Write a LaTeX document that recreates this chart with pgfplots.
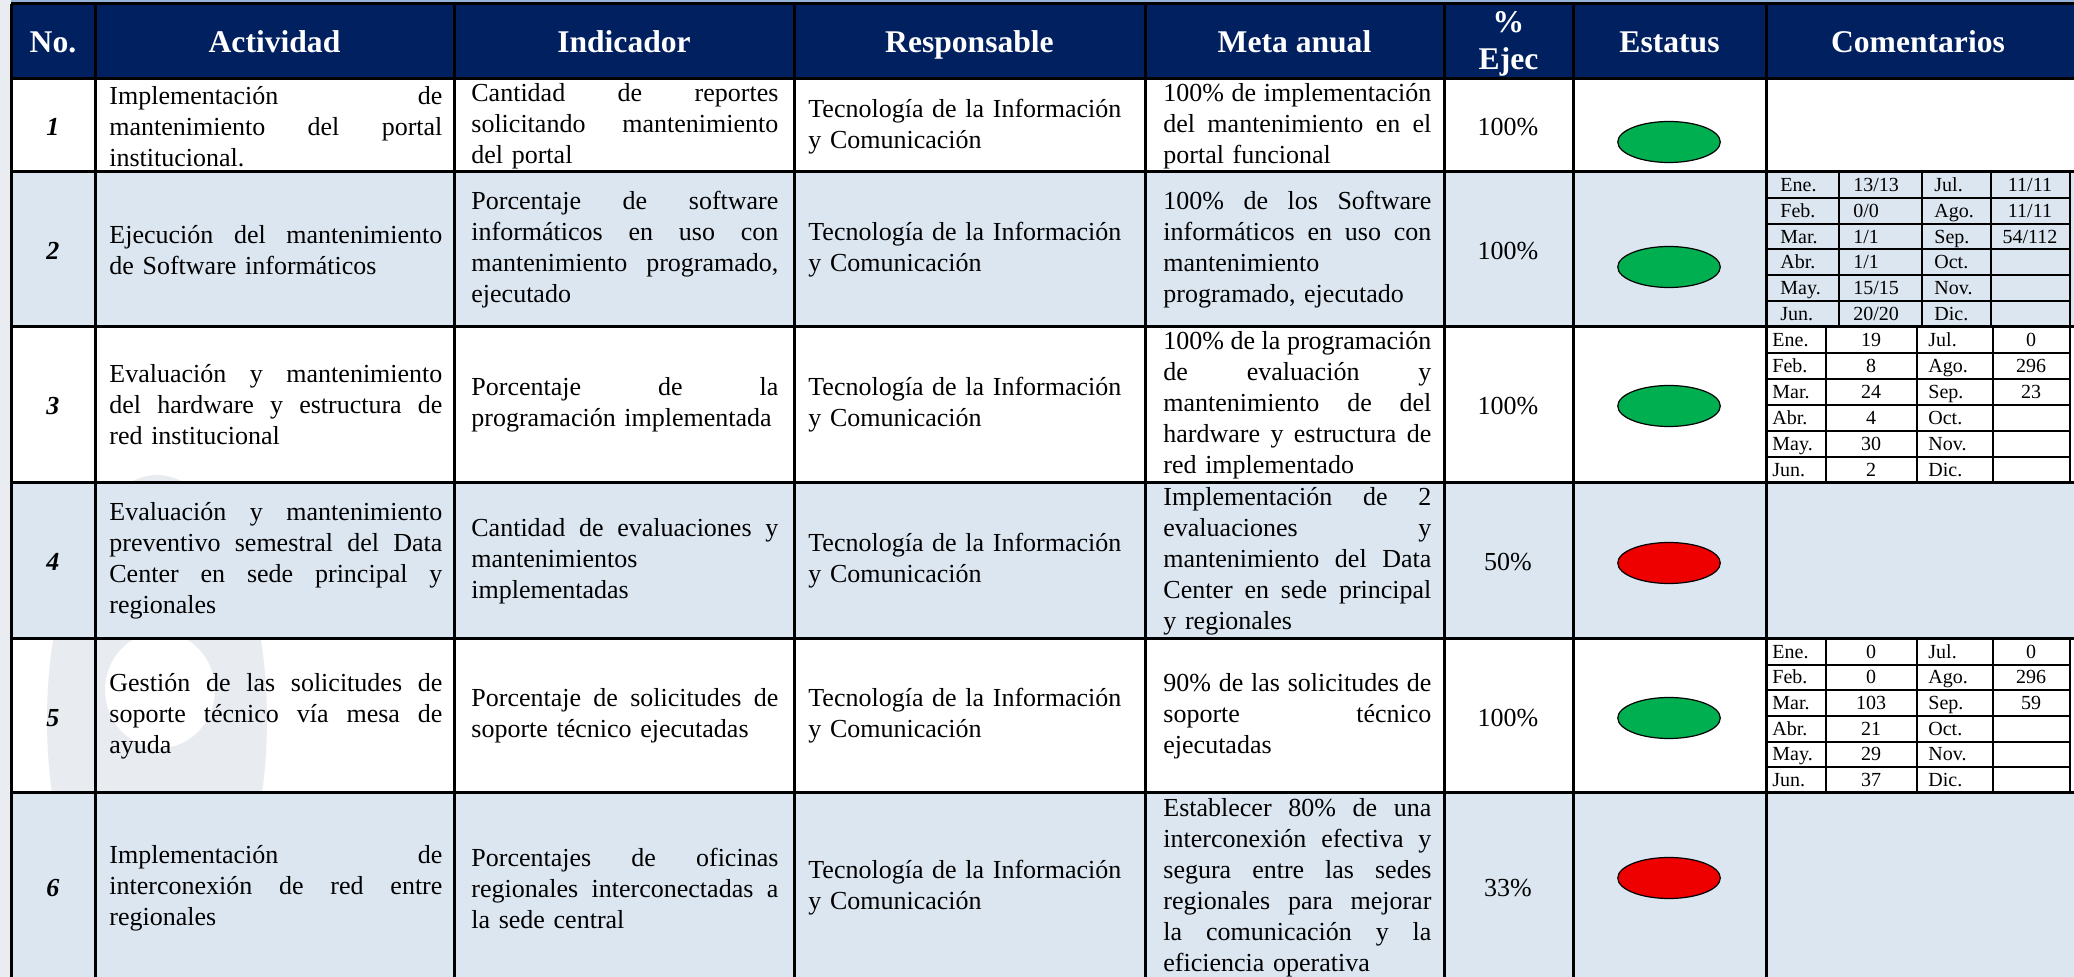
\documentclass[border=0pt]{standalone}
\usepackage{fontspec}
\setmainfont{Liberation Serif}
\usepackage{pgfplots}
\pgfplotsset{compat=1.18}
\definecolor{navy}{HTML}{002060}
\definecolor{rowblue}{HTML}{DCE6F1}
\definecolor{stripblue}{HTML}{95B3D7}
\definecolor{pagebg}{HTML}{E9EDF2}
\definecolor{wmark}{HTML}{E8ECF1}
\definecolor{okgreen}{HTML}{00B050}
\definecolor{badred}{HTML}{EE0000}
\newcommand{\body}{\fontsize{13pt}{15.5pt}\selectfont}
\newcommand{\hdr}{\fontsize{15.8pt}{18pt}\selectfont\bfseries}
\newcommand{\mini}{\fontsize{10pt}{12pt}\selectfont}
\newcommand{\JX}[2]{\leavevmode\hbox to #1{\spaceskip=0.25em plus 1fil minus 0.06em\relax\xspaceskip=\spaceskip #2}}
\newcommand{\JA}[1]{\JX{166.5pt}{#1}}
\newcommand{\JI}[1]{\JX{153.5pt}{#1}}
\newcommand{\JM}[1]{\JX{134pt}{#1}}
\newcommand{\cell}[4]{\node[anchor=west,inner sep=0pt,text width=#3,align=left,font=\body] at (axis cs:#1,#2) {#4};}
\newcommand{\hd}[3]{\node[anchor=base,inner sep=0pt,font=\hdr,text=white] at (axis cs:#1,#2) {#3};}
\newcommand{\num}[2]{\node[anchor=center,inner sep=0pt,font=\body\bfseries\itshape] at (axis cs:53,#1) {#2};}
\newcommand{\mt}[3]{\node[anchor=base west,inner sep=0pt,font=\mini] at (axis cs:#1,#2) {#3};}
\newcommand{\mc}[3]{\node[anchor=base,inner sep=0pt,font=\mini] at (axis cs:#1,#2) {#3};}
\begin{document}
\begin{tikzpicture}
\useasboundingbox (0,0) rectangle (1037pt,488.5pt);
\clip (0,0) rectangle (1037pt,488.5pt);
\begin{axis}[
  width=1037pt, height=488.5pt, scale only axis,
  xmin=0, xmax=2074, ymin=0, ymax=977, y dir=reverse,
  hide axis, clip=false,
]
% backgrounds
\fill[pagebg] (axis cs:0,0) rectangle (axis cs:2074,977);
\fill[stripblue] (axis cs:11,0) rectangle (axis cs:2074,4);
\fill[navy] (axis cs:11,4) rectangle (axis cs:2074,79);
\fill[white] (axis cs:11,79) rectangle (axis cs:2074,977);
\fill[wmark, even odd rule] (axis cs:157,720) ellipse [x radius=55pt, y radius=122.5pt]
   (axis cs:160,690) ellipse [x radius=27.5pt, y radius=29pt];
\fill[rowblue] (axis cs:11,172) rectangle (axis cs:2074,327);
\fill[rowblue] (axis cs:11,483) rectangle (axis cs:2074,639);
\fill[rowblue] (axis cs:11,793) rectangle (axis cs:2074,977);
% main grid
\draw[line width=1.5pt] (axis cs:11,4) -- (axis cs:2074,4);
\draw[line width=1.5pt] (axis cs:11,79) -- (axis cs:2074,79);
\draw[line width=1.5pt] (axis cs:11,172) -- (axis cs:2074,172);
\draw[line width=1.5pt] (axis cs:11,327) -- (axis cs:2074,327);
\draw[line width=1.5pt] (axis cs:11,483) -- (axis cs:2074,483);
\draw[line width=1.5pt] (axis cs:11,639) -- (axis cs:2074,639);
\draw[line width=1.5pt] (axis cs:11,793) -- (axis cs:2074,793);
\draw[line width=1.5pt] (axis cs:11.5,4) -- (axis cs:11.5,977);
\draw[line width=1.5pt] (axis cs:95,4) -- (axis cs:95,977);
\draw[line width=1.5pt] (axis cs:454,4) -- (axis cs:454,977);
\draw[line width=1.5pt] (axis cs:794,4) -- (axis cs:794,977);
\draw[line width=1.5pt] (axis cs:1145,4) -- (axis cs:1145,977);
\draw[line width=1.5pt] (axis cs:1444,4) -- (axis cs:1444,977);
\draw[line width=1.5pt] (axis cs:1573,4) -- (axis cs:1573,977);
\draw[line width=1.5pt] (axis cs:1766,4) -- (axis cs:1766,977);
% mini table row 2
\draw[line width=1pt] (axis cs:1839,172) -- (axis cs:1839,327);
\draw[line width=1pt] (axis cs:1922,172) -- (axis cs:1922,327);
\draw[line width=1pt] (axis cs:1991,172) -- (axis cs:1991,327);
\draw[line width=1pt] (axis cs:2070,172) -- (axis cs:2070,327);
\draw[line width=1pt] (axis cs:1766,197.8) -- (axis cs:2070,197.8);
\draw[line width=1pt] (axis cs:1766,223.7) -- (axis cs:2070,223.7);
\draw[line width=1pt] (axis cs:1766,249.5) -- (axis cs:2070,249.5);
\draw[line width=1pt] (axis cs:1766,275.3) -- (axis cs:2070,275.3);
\draw[line width=1pt] (axis cs:1766,301.2) -- (axis cs:2070,301.2);
% mini table row 3
\draw[line width=1pt] (axis cs:1826,327) -- (axis cs:1826,483);
\draw[line width=1pt] (axis cs:1917,327) -- (axis cs:1917,483);
\draw[line width=1pt] (axis cs:1993,327) -- (axis cs:1993,483);
\draw[line width=1pt] (axis cs:2070,327) -- (axis cs:2070,483);
\draw[line width=1pt] (axis cs:1766,353) -- (axis cs:2070,353);
\draw[line width=1pt] (axis cs:1766,379) -- (axis cs:2070,379);
\draw[line width=1pt] (axis cs:1766,405) -- (axis cs:2070,405);
\draw[line width=1pt] (axis cs:1766,431) -- (axis cs:2070,431);
\draw[line width=1pt] (axis cs:1766,457) -- (axis cs:2070,457);
% mini table row 5
\draw[line width=1pt] (axis cs:1826,639) -- (axis cs:1826,793);
\draw[line width=1pt] (axis cs:1917,639) -- (axis cs:1917,793);
\draw[line width=1pt] (axis cs:1993,639) -- (axis cs:1993,793);
\draw[line width=1pt] (axis cs:2070,639) -- (axis cs:2070,793);
\draw[line width=1pt] (axis cs:1766,664.7) -- (axis cs:2070,664.7);
\draw[line width=1pt] (axis cs:1766,690.3) -- (axis cs:2070,690.3);
\draw[line width=1pt] (axis cs:1766,716) -- (axis cs:2070,716);
\draw[line width=1pt] (axis cs:1766,741.7) -- (axis cs:2070,741.7);
\draw[line width=1pt] (axis cs:1766,767.3) -- (axis cs:2070,767.3);
% header
\hd{53}{53}{No.}
\hd{274.5}{53}{Actividad}
\hd{624}{53}{Indicador}
\hd{969.5}{53}{Responsable}
\hd{1294.5}{53}{Meta anual}
\hd{1508.5}{33}{\%}
\hd{1508.5}{70}{Ejec}
\hd{1669.5}{53}{Estatus}
\hd{1918}{53}{Comentarios}
% numbers
\num{127}{1}
\num{251}{2}
\num{406}{3}
\num{562}{4}
\num{718}{5}
\num{888}{6}
% row 1
\cell{109}{126.5}{166.5pt}{\JA{Implementación de}\\\JA{mantenimiento del portal}\\institucional.}
\cell{471}{126.5}{153.5pt}{\JI{Cantidad de reportes}\\\JI{solicitando mantenimiento}\\del portal}
\cell{808}{126.5}{170pt}{Tecnología de la Información\\y Comunicación}
\cell{1163}{126.5}{134pt}{\JM{100\% de implementación}\\\JM{del mantenimiento en el}\\portal funcional}
% row 2
\cell{109}{250}{166.5pt}{\JA{Ejecución del mantenimiento}\\de Software informáticos}
\cell{471}{250}{153.5pt}{\JI{Porcentaje de software}\\\JI{informáticos en uso con}\\\JI{mantenimiento programado,}\\ejecutado}
\cell{808}{250}{170pt}{Tecnología de la Información\\y Comunicación}
\cell{1163}{250}{134pt}{\JM{100\% de los Software}\\\JM{informáticos en uso con}\\mantenimiento\\programado, ejecutado}
% row 3
\cell{109}{405}{166.5pt}{\JA{Evaluación y mantenimiento}\\\JA{del hardware y estructura de}\\red institucional}
\cell{471}{405}{153.5pt}{\JI{Porcentaje de la}\\programación implementada}
\cell{808}{405}{170pt}{Tecnología de la Información\\y Comunicación}
\cell{1163}{405}{134pt}{\JM{100\% de la programación}\\\JM{de evaluación y}\\\JM{mantenimiento de del}\\\JM{hardware y estructura de}\\red implementado}
% row 4
\cell{109}{561}{166.5pt}{\JA{Evaluación y mantenimiento}\\\JA{preventivo semestral del Data}\\\JA{Center en sede principal y}\\regionales}
\cell{471}{561}{153.5pt}{\JI{Cantidad de evaluaciones y}\\mantenimientos\\implementadas}
\cell{808}{561}{170pt}{Tecnología de la Información\\y Comunicación}
\cell{1163}{561}{134pt}{\JM{Implementación de 2}\\\JM{evaluaciones y}\\\JM{mantenimiento del Data}\\\JM{Center en sede principal}\\y regionales}
% row 5
\cell{109}{716}{166.5pt}{\JA{Gestión de las solicitudes de}\\\JA{soporte técnico vía mesa de}\\ayuda}
\cell{471}{716}{153.5pt}{\JI{Porcentaje de solicitudes de}\\soporte técnico ejecutadas}
\cell{808}{716}{170pt}{Tecnología de la Información\\y Comunicación}
\cell{1163}{716}{134pt}{\JM{90\% de las solicitudes de}\\\JM{soporte técnico}\\ejecutadas}
% row 6
\cell{109}{888}{166.5pt}{\JA{Implementación de}\\\JA{interconexión de red entre}\\regionales}
\cell{471}{888}{153.5pt}{\JI{Porcentajes de oficinas}\\\JI{regionales interconectadas a}\\la sede central}
\cell{808}{888}{170pt}{Tecnología de la Información\\y Comunicación}
\cell{1163}{888}{134pt}{\JM{Establecer 80\% de una}\\\JM{interconexión efectiva y}\\\JM{segura entre las sedes}\\\JM{regionales para mejorar}\\\JM{la comunicación y la}\\eficiencia operativa}
% percentages of execution
\addplot[draw=none, mark=none, point meta=explicit symbolic, nodes near coords,
  nodes near coords align=center,
  every node near coord/.append style={anchor=center, font=\body, inner sep=0pt}]
  coordinates {(1508,127) [100\%] (1508,251) [100\%] (1508,406) [100\%]
               (1508,562) [50\%] (1508,718) [100\%] (1508,888) [33\%]};
% status
\addplot[only marks, mark=*, mark size=10.25pt,
  mark options={xscale=2.5, draw=black, line width=0.6pt, fill=okgreen}]
  coordinates {(1669,142) (1669,267) (1669,406) (1669,718)};
\addplot[only marks, mark=*, mark size=10.25pt,
  mark options={xscale=2.5, draw=black, line width=0.6pt, fill=badred}]
  coordinates {(1669,563) (1669,878)};
% mini table row 2
\mt{1780}{191.4}{Ene.}\mt{1853}{191.4}{13/13}\mt{1934}{191.4}{Jul.}\mc{2030}{191.4}{11/11}
\mt{1780}{217.3}{Feb.}\mt{1853}{217.3}{0/0}\mt{1934}{217.3}{Ago.}\mc{2030}{217.3}{11/11}
\mt{1780}{243.1}{Mar.}\mt{1853}{243.1}{1/1}\mt{1934}{243.1}{Sep.}\mc{2030}{243.1}{54/112}
\mt{1780}{268.9}{Abr.}\mt{1853}{268.9}{1/1}\mt{1934}{268.9}{Oct.}
\mt{1780}{294.7}{May.}\mt{1853}{294.7}{15/15}\mt{1934}{294.7}{Nov.}
\mt{1780}{320.6}{Jun.}\mt{1853}{320.6}{20/20}\mt{1934}{320.6}{Dic.}
% mini table row 3
\mt{1772}{346.5}{Ene.}\mc{1871}{346.5}{19}\mt{1928}{346.5}{Jul.}\mc{2031}{346.5}{0}
\mt{1772}{372.5}{Feb.}\mc{1871}{372.5}{8}\mt{1928}{372.5}{Ago.}\mc{2031}{372.5}{296}
\mt{1772}{398.5}{Mar.}\mc{1871}{398.5}{24}\mt{1928}{398.5}{Sep.}\mc{2031}{398.5}{23}
\mt{1772}{424.5}{Abr.}\mc{1871}{424.5}{4}\mt{1928}{424.5}{Oct.}
\mt{1772}{450.5}{May.}\mc{1871}{450.5}{30}\mt{1928}{450.5}{Nov.}
\mt{1772}{476.5}{Jun.}\mc{1871}{476.5}{2}\mt{1928}{476.5}{Dic.}
% mini table row 5
\mt{1772}{658.3}{Ene.}\mc{1871}{658.3}{0}\mt{1928}{658.3}{Jul.}\mc{2031}{658.3}{0}
\mt{1772}{684}{Feb.}\mc{1871}{684}{0}\mt{1928}{684}{Ago.}\mc{2031}{684}{296}
\mt{1772}{709.7}{Mar.}\mc{1871}{709.7}{103}\mt{1928}{709.7}{Sep.}\mc{2031}{709.7}{59}
\mt{1772}{735.3}{Abr.}\mc{1871}{735.3}{21}\mt{1928}{735.3}{Oct.}
\mt{1772}{761}{May.}\mc{1871}{761}{29}\mt{1928}{761}{Nov.}
\mt{1772}{786.7}{Jun.}\mc{1871}{786.7}{37}\mt{1928}{786.7}{Dic.}
\end{axis}
\end{tikzpicture}
\end{document}
